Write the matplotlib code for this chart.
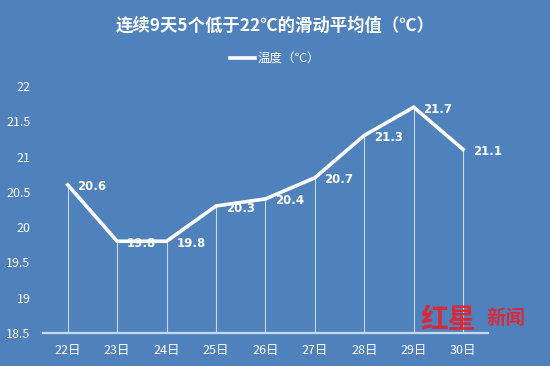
import matplotlib
matplotlib.use("Agg")
import matplotlib.pyplot as plt

plt.rcParams['font.family'] = ['Noto Sans CJK SC', 'DejaVu Sans']

days = ["22日", "23日", "24日", "25日", "26日", "27日", "28日", "29日", "30日"]
temps = [20.6, 19.8, 19.8, 20.3, 20.4, 20.7, 21.3, 21.7, 21.1]
yticks = [18.5, 19, 19.5, 20, 20.5, 21, 21.5, 22]
title = "连续9天5个低于22℃的滑动平均值（℃）"
legend_label = "温度（℃）"

bg = "#4F81BD"
fig = plt.figure(figsize=(5.5, 3.66), dpi=100, facecolor=bg)
ax = fig.add_axes([0.0782, 0.0902, 0.8088, 0.6748], facecolor=bg)

x = list(range(len(days)))
ax.vlines(x, 18.5, temps, colors="#dde8f5", linewidth=0.8, alpha=0.85, zorder=1)
line, = ax.plot(x, temps, color="white", linewidth=2.6, solid_joinstyle="miter",
                label=legend_label, zorder=4)
for xi, t in zip(x, temps):
    ax.annotate(f"{t}", (xi, t), xytext=(7, -1.5), textcoords="offset points",
                color="white", fontsize=8.5, fontweight="bold", va="center", ha="left",
                family=['DejaVu Sans'], zorder=3)

ax.set_xlim(-0.5, len(days) - 0.5)
ax.set_ylim(18.5, 22)
ax.set_yticks(yticks)
ax.set_yticklabels([f"{v:g}" for v in yticks], color="white", fontsize=9)
ax.set_xticks(x)
ax.set_xticklabels(days, color="white", fontsize=9)
ax.tick_params(axis="both", length=0)
ax.tick_params(axis="y", pad=9)
ax.tick_params(axis="x", pad=8)
for s in ["top", "right", "left"]:
    ax.spines[s].set_visible(False)
ax.spines["bottom"].set_color("#c9daf0")
ax.spines["bottom"].set_linewidth(1.6)

fig.text(0.5, 0.93, title, color="white", fontsize=12.5, fontweight="bold", ha="center", va="center")
leg = fig.legend(handles=[line], loc="center", bbox_to_anchor=(0.5, 0.838), frameon=False,
                 fontsize=9, handlelength=2.0, handletextpad=0.2)
for t in leg.get_texts():
    t.set_color("white")

fig.text(0.765, 0.125, "红星", color="#e8202a", fontsize=20, fontweight="bold",
         ha="left", va="center", alpha=0.9, zorder=5)
fig.text(0.885, 0.13, "新闻", color="#e8202a", fontsize=14, fontweight="bold",
         ha="left", va="center", alpha=0.85, zorder=5)

fig.savefig("out.png", dpi=100, facecolor=bg)
